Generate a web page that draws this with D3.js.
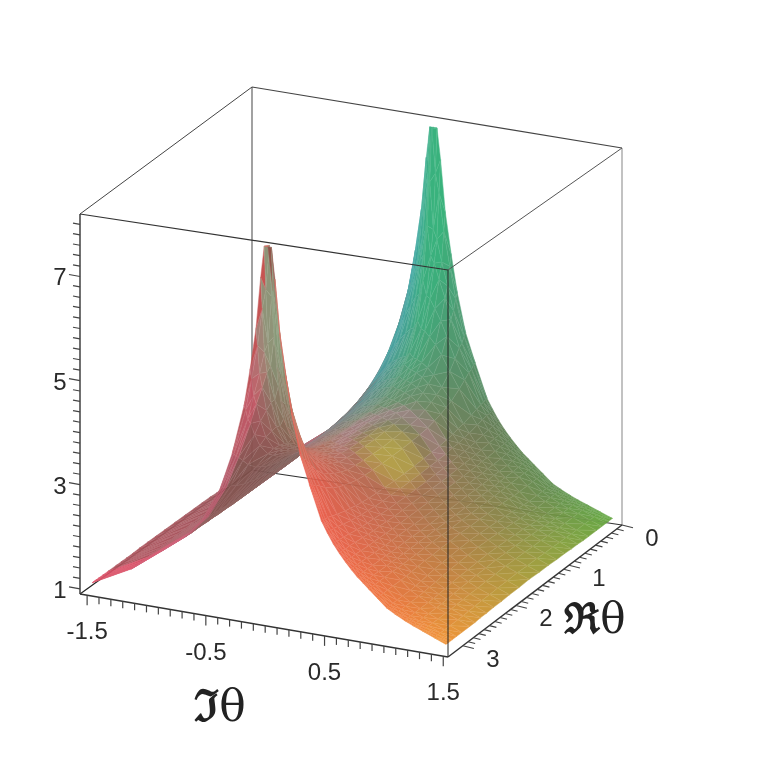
<!DOCTYPE html>
<html><head><meta charset="utf-8">
<script src="https://cdn.jsdelivr.net/npm/d3@7/dist/d3.min.js"></script>
<style>html,body{margin:0;background:#fff}svg{display:block;filter:blur(.4px)}</style></head>
<body><svg id="c" width="770" height="770"></svg>
<script>
const imValues=[-1.52,-1.19,-.94,-.74,-.59,-.44,-.34,-.24,-.19,-.14,-.10,-.07,-.04,-.01,.02,.06,.11,.16,.23,.31,.41,.46,.51,.56,.61,.66,.71,.76,.81,.88,.96,1.03,1.11,1.18,1.26,1.36,1.46];
const reValues=[0,.03,.07,.12,.2,.3,.45,.55,.65,.77,.9,1.05,1.2,1.38,1.57,1.76,1.94,2.09,2.24,2.37,2.49,2.59,2.69,2.84,2.94,3.02,3.07,3.11,3.14];
const z00=[1.03,1.42,1.85,2.2,2.6,3.25,3.95,4.9,5.6,6.4,7.4,8,8,8,7.4,6.4,5.6,4.9,4.15,3.6,2.95,2.74,2.55,2.39,2.25,2.12,2,1.9,1.8,1.66,1.5,1.41,1.32,1.25,1.18,1.09,1];
const z03=[1.03,1.42,1.85,2.2,2.6,3.25,3.93,4.8,5.41,6.06,6.78,7.15,8,7.15,6.78,6.06,5.41,4.8,4.1,3.58,2.95,2.74,2.55,2.39,2.25,2.12,2,1.9,1.8,1.66,1.5,1.41,1.32,1.25,1.18,1.09,1];
const z07=[1.03,1.42,1.85,2.2,2.59,3.21,3.84,4.6,5.06,5.5,5.92,6.1,7,6.1,5.92,5.5,5.06,4.6,4,3.53,2.93,2.73,2.54,2.39,2.25,2.12,2,1.9,1.8,1.66,1.5,1.41,1.32,1.25,1.18,1.09,1];
const z12=[1.03,1.42,1.85,2.19,2.58,3.19,3.79,4.47,4.86,5.2,5.5,5.63,6.2,5.63,5.5,5.2,4.86,4.47,3.95,3.5,2.92,2.73,2.54,2.38,2.24,2.12,2,1.9,1.8,1.66,1.5,1.41,1.32,1.25,1.18,1.09,1];
const z20=[1.03,1.42,1.85,2.19,2.57,3.15,3.67,4.2,4.48,4.7,4.87,4.93,5.2,4.93,4.87,4.7,4.48,4.2,3.8,3.42,2.89,2.71,2.53,2.38,2.24,2.12,2,1.9,1.8,1.66,1.5,1.41,1.32,1.25,1.18,1.09,1];
const z30=[1.03,1.42,1.85,2.19,2.55,3.08,3.52,3.92,4.1,4.23,4.33,4.36,4.5,4.36,4.33,4.23,4.1,3.92,3.63,3.32,2.85,2.68,2.51,2.37,2.23,2.11,1.99,1.89,1.8,1.66,1.5,1.41,1.32,1.25,1.18,1.09,1];
const z45=[1.03,1.42,1.84,2.18,2.53,3,3.36,3.65,3.77,3.85,3.9,3.92,4,3.92,3.9,3.85,3.77,3.65,3.44,3.2,2.8,2.64,2.48,2.35,2.22,2.1,1.99,1.89,1.8,1.66,1.5,1.41,1.32,1.25,1.18,1.09,1];
const z55=[1.03,1.42,1.84,2.18,2.52,2.97,3.3,3.55,3.66,3.73,3.77,3.79,3.85,3.79,3.77,3.73,3.66,3.55,3.37,3.15,2.78,2.62,2.47,2.34,2.22,2.1,1.99,1.89,1.79,1.66,1.51,1.42,1.32,1.25,1.18,1.09,1];
const z65=[1.03,1.43,1.84,2.17,2.5,2.93,3.23,3.45,3.54,3.6,3.64,3.65,3.7,3.65,3.64,3.6,3.54,3.45,3.3,3.1,2.75,2.6,2.46,2.33,2.21,2.09,1.98,1.88,1.79,1.67,1.52,1.43,1.33,1.26,1.19,1.1,1.01];
const z77=[1.03,1.43,1.84,2.17,2.49,2.9,3.18,3.38,3.46,3.51,3.55,3.56,3.6,3.56,3.55,3.51,3.46,3.38,3.24,3.06,2.73,2.59,2.45,2.33,2.21,2.09,1.98,1.88,1.79,1.68,1.54,1.44,1.34,1.27,1.19,1.1,1.01];
const z90=[1.04,1.44,1.84,2.16,2.48,2.87,3.13,3.31,3.38,3.42,3.45,3.46,3.5,3.46,3.45,3.42,3.38,3.31,3.18,3.02,2.71,2.57,2.44,2.32,2.2,2.09,1.98,1.88,1.79,1.69,1.56,1.46,1.36,1.28,1.2,1.11,1.02];
const z105=[1.04,1.44,1.84,2.16,2.47,2.85,3.1,3.28,3.35,3.38,3.41,3.42,3.46,3.42,3.41,3.38,3.35,3.28,3.16,3,2.7,2.56,2.43,2.31,2.2,2.09,1.98,1.88,1.79,1.69,1.57,1.47,1.37,1.29,1.2,1.11,1.02];
const z120=[1.04,1.45,1.84,2.16,2.47,2.84,3.07,3.26,3.32,3.35,3.38,3.39,3.42,3.39,3.38,3.35,3.32,3.26,3.14,2.99,2.69,2.56,2.43,2.31,2.2,2.08,1.97,1.88,1.79,1.7,1.58,1.48,1.38,1.3,1.21,1.12,1.03];
const z138=[1.04,1.45,1.84,2.16,2.46,2.83,3.06,3.25,3.31,3.34,3.37,3.38,3.41,3.38,3.37,3.34,3.31,3.25,3.13,2.98,2.68,2.55,2.42,2.31,2.2,2.08,1.97,1.88,1.79,1.7,1.59,1.49,1.39,1.3,1.21,1.12,1.03];
const z157=[1.04,1.45,1.84,2.16,2.46,2.82,3.05,3.24,3.3,3.33,3.36,3.37,3.4,3.37,3.36,3.33,3.3,3.24,3.12,2.98,2.68,2.55,2.42,2.31,2.2,2.08,1.97,1.88,1.79,1.71,1.6,1.5,1.4,1.31,1.22,1.13,1.04];
const zGrid=[z00,z03,z07,z12,z20,z30,z45,z55,z65,z77,z90,z105,z120,z138,z157,z138,z120,z105,z90,z77,z65,z55,z45,z30,z20,z12,z07,z03,z00];
const imTicks=[-1.5,-0.5,0.5,1.5], imTickLabels=["-1.5","-0.5","0.5","1.5"];
const reTicks=[0,1,2,3], reTickLabels=["0","1","2","3"];
const zTicks=[1,3,5,7], zTickLabels=["1","3","5","7"];
const imMinor=d3.range(-15,16).map(d=>d/10), reMinor=d3.range(0,31).map(d=>d/10), zMinor=d3.range(5,41).map(d=>d/5);

const svg=d3.select("#c");
const U=d3.scaleLinear().domain([-1.56,1.54]).range([0,1]);
const R=d3.scaleLinear().domain([0,3.28]).range([0,1]);
const W=d3.scaleLinear().domain([.9,8.2]).range([0,1]);
const F={b:[252,470],r:[622,525],l:[80,594],f:[448,657]}, T={b:[252,87],r:[622,148],l:[80,214],f:[448,270]};
const bil=(C,u,r,k)=>(C.b[k]*(1-u)+C.r[k]*u)*(1-r)+(C.l[k]*(1-u)+C.f[k]*u)*r;
function proj(im,re,z){const u=U(im),r=R(re),w=W(z);return [0,1].map(k=>bil(F,u,r,k)*(1-w)+bil(T,u,r,k)*w);}
const imHi=U.domain()[1], imLo=U.domain()[0], reHi=R.domain()[1], zLo=W.domain()[0], zHi=W.domain()[1];
const line=(g,a,b,col,w)=>g.append("line").attr("x1",a[0]).attr("y1",a[1]).attr("x2",b[0]).attr("y2",b[1]).attr("stroke",col).attr("stroke-width",w);

// back of box
const back=svg.append("g");
line(back,proj(imLo,0,zLo),proj(imLo,0,zHi),"#555",1.1);
line(back,proj(imHi,0,zLo),proj(imHi,0,zHi),"#999",1.2);
line(back,proj(imLo,0,zLo),proj(imHi,0,zLo),"#333",1.2);
line(back,proj(imLo,0,zLo),proj(imLo,reHi,zLo),"#222",1.2);
line(back,proj(imLo,0,zHi),proj(imHi,0,zHi),"#444",1.1);
line(back,proj(imLo,0,zHi),proj(imLo,reHi,zHi),"#444",1);

// surface colours
const imStops=[-1.5,-.6,-.35,0,.5,1,1.5];
const colBack=d3.scaleLinear().domain(imStops).range(["#b05462","#8e6264","#35a0a8","#2ca878","#5a7a50","#5a8c4a","#5fa83a"]).interpolate(d3.interpolateRgb);
const colFront=d3.scaleLinear().domain(imStops).range(["#dc4058","#c04a66","#c04c62","#e44a44","#ec5c44","#f07434","#f0942e"]).interpolate(d3.interpolateRgb);
const peakFar=d3.scaleLinear().domain([-.2,-.05,.05,.25]).range(["#38a0a8","#2fae78","#2fb074","#5f8a70"]).interpolate(d3.interpolateRgb).clamp(true);
const peakNear=d3.scaleLinear().domain([-.2,-.08,.05,.2]).range(["#c85a70","#7f9a78","#7fa078","#8c9068"]).interpolate(d3.interpolateRgb).clamp(true);
function faceColor(re,im,z,under){
  let c=d3.interpolateRgb(colBack(im),colFront(im))(re/Math.PI);
  const a=(re-1.57)/.42,b=(im-.3)/.2,e=Math.hypot(a,b);
  if(e<1.15) c=d3.interpolateRgb(c,"#b8ae3c")(.72*(1-e*e/1.32));
  else if(e<2) c=d3.interpolateRgb(c,"#b87c98")(.5*(1-Math.abs(e-1.55)/.45)*Math.max(0,Math.min(1,.6-.7*(a+b)/e)));
  if(under) c=d3.interpolateRgb(c,"#6a4c3e")(re>3.0&&im<-.05?.2:.72);
  else if(im<-.3&&re>.5&&re<2.8) c=d3.interpolateRgb(c,"#7a5650")(.45);
  const p=Math.min(1,Math.max(0,(z-3.5)/2.5));
  if(re<3.12) c=d3.interpolateRgb(c,re<1.57?peakFar(im):peakNear(im))(p*.85);
  return c;
}
const surface=svg.append("g").attr("opacity",.95);
for(let i=0;i<reValues.length-1;i++){
  for(let j=0;j<imValues.length-1;j++){
    const v=[[i,j],[i,j+1],[i+1,j+1],[i+1,j]].map(([a,b])=>({re:reValues[a],im:imValues[b],z:zGrid[a][b]}));
    [[v[0],v[1],v[3]],[v[1],v[2],v[3]]].forEach(t=>{
      const pts=t.map(q=>proj(q.im,q.re,q.z));
      const under=d3.polygonArea(pts)>0;
      const c=faceColor(d3.mean(t,q=>q.re),d3.mean(t,q=>q.im),d3.mean(t,q=>q.z),under);
      surface.append("path").attr("d","M"+pts.join("L")+"Z").attr("fill",c)
        .attr("stroke",d3.interpolateRgb(c,"#ffffff")(.12)).attr("stroke-width",.5).attr("stroke-linejoin","round");
    });
  }
}

// front of box and axes
const front=svg.append("g");
line(front,proj(imHi,reHi,zLo),proj(imHi,reHi,zHi),"#222",1);
line(front,proj(imLo,reHi,zLo),proj(imLo,reHi,zHi),"#333",1.4);
line(front,proj(imLo,reHi,zLo),proj(imHi,reHi,zLo),"#333",1.4);
line(front,proj(imHi,0,zLo),proj(imHi,reHi,zLo),"#333",1.4);
line(front,proj(imLo,reHi,zHi),proj(imHi,reHi,zHi),"#333",1.2);
line(front,proj(imHi,0,zHi),proj(imHi,reHi,zHi),"#555",1);

imMinor.forEach(t=>{const p=proj(t,reHi,zLo),maj=imTicks.some(m=>Math.abs(m-t)<1e-6);line(front,p,[p[0],p[1]+(maj?10:7)],"#444",1.2);});
reMinor.forEach(t=>{const p=proj(imHi,t,zLo),maj=reTicks.some(m=>Math.abs(m-t)<1e-6);const k=maj?11:7;line(front,p,[p[0]+k,p[1]+k*.25],"#444",1.1);});
zMinor.forEach(t=>{const p=proj(imLo,reHi,t),maj=zTicks.some(m=>Math.abs(m-t)<1e-6);const k=maj?11:7;line(front,p,[p[0]-k,p[1]-k*.18],"#444",1.2);});

const lab=(x,y,s)=>front.append("text").attr("x",x).attr("y",y).attr("text-anchor","middle").attr("font-family","Liberation Sans").attr("font-size",24).attr("fill","#2a2a2a").text(s);
imTicks.forEach((t,i)=>{const p=proj(t,reHi,zLo);lab(p[0],p[1]+44,imTickLabels[i]);});
reTicks.forEach((t,i)=>{const p=proj(imHi,t,zLo);lab(p[0]+30,p[1]+21,reTickLabels[i]);});
zTicks.forEach((t,i)=>{const p=proj(imLo,reHi,t);lab(p[0]-20,p[1]+9,zTickLabels[i]);});
const big=(x,y,a,f)=>{const t=front.append("text").attr("x",x).attr("y",y).attr("text-anchor","middle").attr("font-family","DejaVu Serif").attr("font-size",f).attr("fill","#222");
  t.append("tspan").attr("font-weight","bold").text(a);t.append("tspan").attr("font-weight","normal").text("θ");};
big(220,721,"ℑ",44);
big(595,633,"ℜ",42);
</script></body></html>
